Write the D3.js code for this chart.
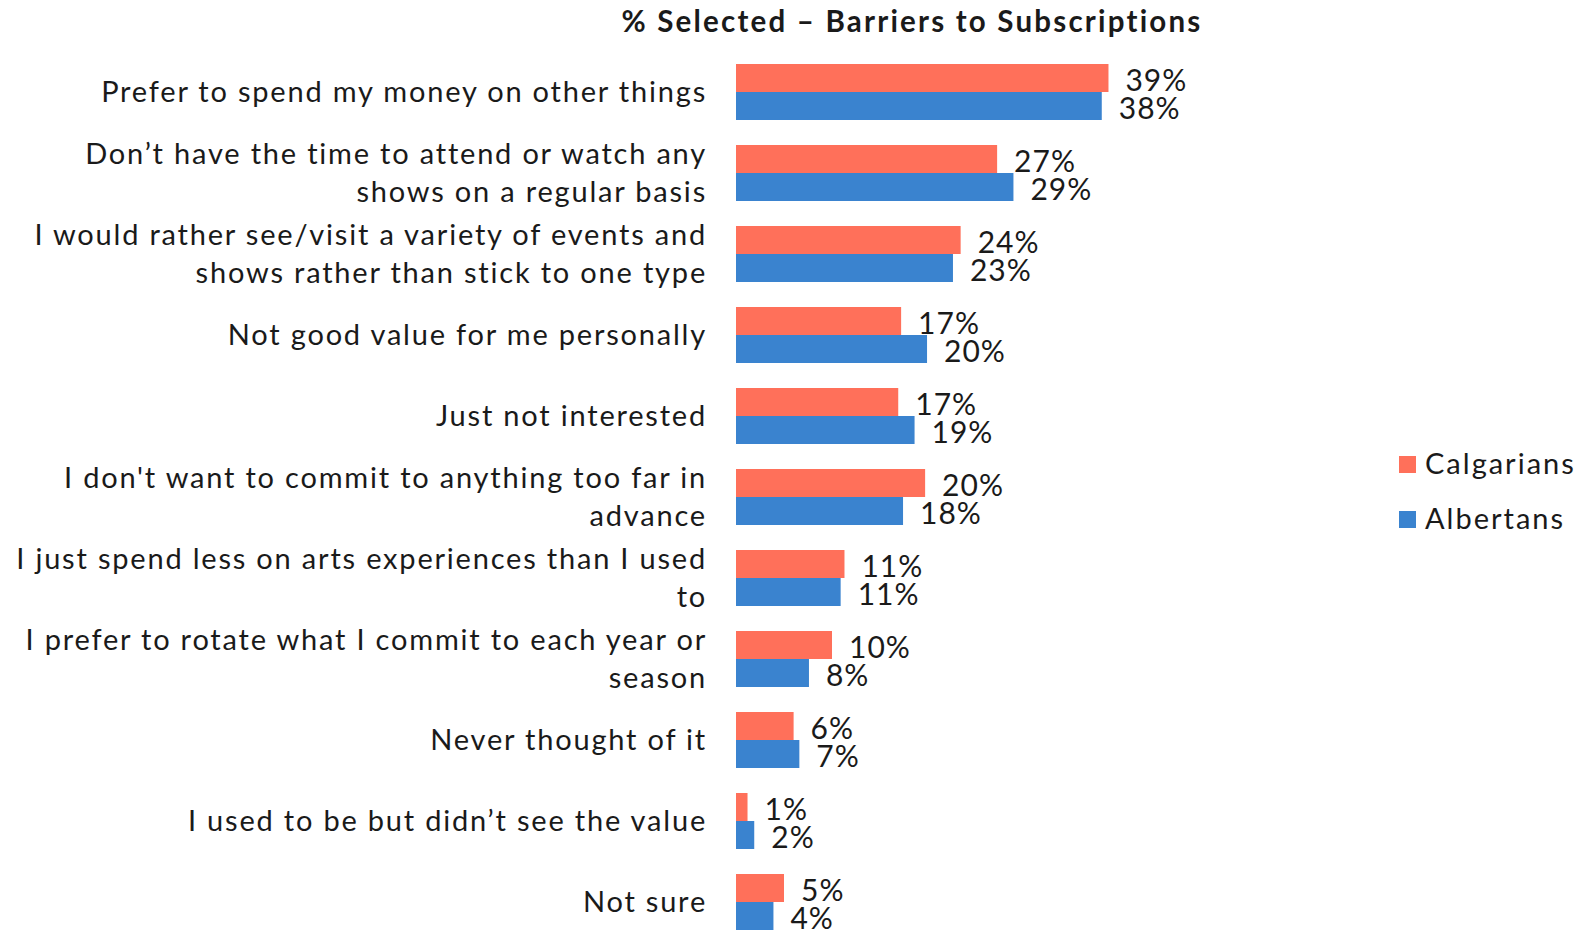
<!DOCTYPE html>
<html>
<head>
<meta charset="utf-8">
<script src="https://cdn.jsdelivr.net/npm/d3@7"></script>
<style>
  html, body { margin: 0; padding: 0; background: #fff; }
  svg { display: block; }
  text { font-family: Lato, "Open Sans", sans-serif; fill: #1a1a1a; }
</style>
</head>
<body>
<svg id="chart" width="1581" height="931"></svg>
<script>
const title = "% Selected \u2013 Barriers to Subscriptions";
const categories = [
  "Prefer to spend my money on other things",
  "Don\u2019t have the time to attend or watch any\nshows on a regular basis",
  "I would rather see/visit a variety of events and\nshows rather than stick to one type",
  "Not good value for me personally",
  "Just not interested",
  "I don't want to commit to anything too far in\nadvance",
  "I just spend less on arts experiences than I used\nto",
  "I prefer to rotate what I commit to each year or\nseason",
  "Never thought of it",
  "I used to be but didn\u2019t see the value",
  "Not sure"
];
const seriesNames = ["Calgarians", "Albertans"];
const calgarians = [38.8, 27.2, 23.4, 17.2, 16.9, 19.7, 11.3, 10.0, 6.0, 1.2, 5.0];
const albertans  = [38.1, 28.9, 22.6, 19.9, 18.6, 17.4, 10.9, 7.6, 6.6, 1.9, 3.9];
const calgariansLabels = ["39%","27%","24%","17%","17%","20%","11%","10%","6%","1%","5%"];
const albertansLabels  = ["38%","29%","23%","20%","19%","18%","11%","8%","7%","2%","4%"];
const colors = ["#FF705A", "#3A83CF"];

const svg = d3.select("#chart");
const x = d3.scaleLinear().domain([0, 40]).range([736, 1120]);
const y = d3.scaleBand().domain(categories).range([64, 930])
  .paddingInner(25 / 81).paddingOuter(0);
const ySub = d3.scaleBand().domain(seriesNames).range([0, y.bandwidth()]);

const series = [
  { name: seriesNames[0], values: calgarians, labels: calgariansLabels, color: colors[0] },
  { name: seriesNames[1], values: albertans, labels: albertansLabels, color: colors[1] }
];

// title
svg.append("text")
  .attr("x", 912).attr("y", 32)
  .attr("text-anchor", "middle")
  .style("font-size", "29.5px").style("font-weight", "bold")
  .style("letter-spacing", "2.2px")
  .text(title);

// bars
const g = svg.append("g");
series.forEach(s => {
  const rows = categories.map((c, i) => ({ c, v: s.values[i], l: s.labels[i] }));
  g.selectAll(null)
    .data(rows)
    .enter().append("rect")
    .attr("x", x(0))
    .attr("y", d => y(d.c) + ySub(s.name))
    .attr("width", d => x(d.v) - x(0))
    .attr("height", ySub.bandwidth())
    .attr("fill", s.color);
  g.selectAll(null)
    .data(rows)
    .enter().append("text")
    .attr("x", d => x(d.v) + 17)
    .attr("y", d => y(d.c) + ySub(s.name) + ySub.bandwidth() / 2 + 13)
    .style("font-size", "30px")
    .style("letter-spacing", "1px")
    .text(d => d.l);
});

// category labels
const lineH = 38.5;
categories.forEach(c => {
  const lines = c.split("\n");
  const cy = y(c) + y.bandwidth() / 2;
  const t = svg.append("text")
    .attr("text-anchor", "end")
    .style("font-size", "29px")
    .style("letter-spacing", "1.8px");
  lines.forEach((ln, i) => {
    t.append("tspan")
      .attr("x", 707)
      .attr("y", cy + (i - (lines.length - 1) / 2) * lineH + 10)
      .text(ln);
  });
});

// legend
const legend = svg.append("g");
seriesNames.forEach((n, i) => {
  const ly = 464 + i * 55;
  legend.append("rect")
    .attr("x", 1399).attr("y", ly - 8).attr("width", 17).attr("height", 17)
    .attr("fill", colors[i]);
  legend.append("text")
    .attr("x", 1425).attr("y", ly + 10)
    .style("font-size", "29px")
    .style("letter-spacing", "2px")
    .text(n);
});
</script>
</body>
</html>
